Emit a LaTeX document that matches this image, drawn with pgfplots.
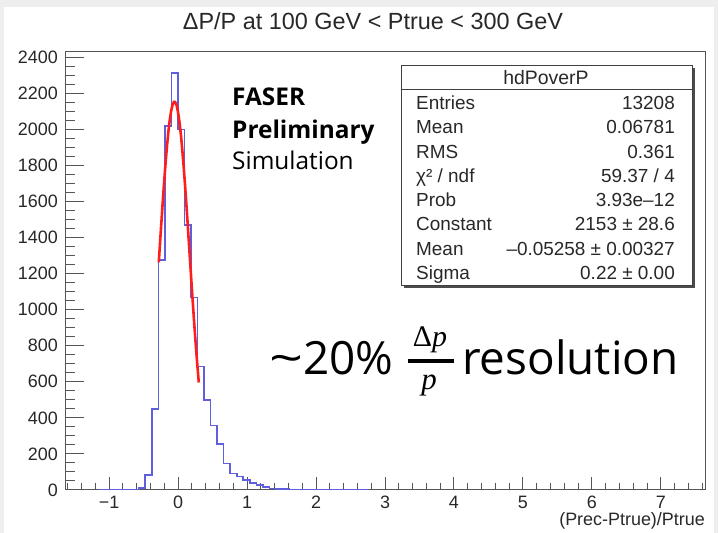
\documentclass[border=0pt]{standalone}
\usepackage[no-math]{fontspec}
\setmainfont{Liberation Sans}
\newfontfamily\osans{Open Sans}
\newfontfamily\mserif{Liberation Serif}
\usepackage{pgfplots}
\pgfplotsset{compat=1.18}
\definecolor{histblue}{RGB}{95,95,222}
\definecolor{fitred}{RGB}{255,30,30}
\definecolor{bggray}{RGB}{238,238,238}
\definecolor{framegray}{RGB}{85,85,85}
\definecolor{txt}{RGB}{40,40,40}
\begin{document}
\begin{tikzpicture}
\fill[bggray] (0bp,0bp) rectangle (718bp,533bp);
\fill[white] (4bp,0bp) rectangle (714bp,526bp);
\begin{axis}[
  at={(65bp,43bp)}, anchor=south west,
  scale only axis, width=640bp, height=438bp,
  xmin=-1.64, xmax=7.64, ymin=0, ymax=2428,
  axis line style={framegray, line width=1bp},
  tick pos=left, tick align=inside,
  xtick={-1,0,1,2,3,4,5,6,7},
  xticklabels={−1,0,1,2,3,4,5,6,7},
  minor xtick={-1.6,-1.4,-1.2,-0.8,-0.6,-0.4,-0.2,0.2,0.4,0.6,0.8,1.2,1.4,1.6,1.8,2.2,2.4,2.6,2.8,3.2,3.4,3.6,3.8,4.2,4.4,4.6,4.8,5.2,5.4,5.6,5.8,6.2,6.4,6.6,6.8,7.2,7.4,7.6},
  ytick={0,200,400,600,800,1000,1200,1400,1600,1800,2000,2200,2400},
  yticklabels={0,200,400,600,800,1000,1200,1400,1600,1800,2000,2200,2400},
  minor ytick={50,100,150,250,300,350,450,500,550,650,700,750,850,900,950,1050,1100,1150,1250,1300,1350,1450,1500,1550,1650,1700,1750,1850,1900,1950,2050,2100,2150,2250,2300,2350},
  major tick length=19bp, minor tick length=9.5bp,
  xtick style={/pgfplots/major tick length=13bp, /pgfplots/minor tick length=6.5bp},
  every tick/.style={framegray, line width=1bp},
  tick label style={font=\fontsize{18}{20}\selectfont, text=txt, inner sep=0pt},
  xticklabel style={anchor=north, yshift=-6bp},
  yticklabel style={anchor=east, xshift=-7bp},
  clip=true,
]
\addplot[const plot, draw=histblue, line width=1.6bp] coordinates {
(-1.140,0) (-1.045,1) (-0.950,1) (-0.855,0) (-0.760,0) (-0.666,2) (-0.571,10)
(-0.476,83) (-0.381,450) (-0.286,1275) (-0.192,2018) (-0.097,2313) (-0.002,1999)
(0.093,1469) (0.187,1066) (0.282,684) (0.377,499) (0.472,358) (0.566,255)
(0.661,147) (0.756,92) (0.851,74) (0.945,55) (1.040,40) (1.135,28) (1.230,17)
(1.324,9) (1.419,5) (1.514,4) (1.609,3) (1.703,3) (1.798,2) (1.893,2) (1.988,2)
(2.082,1) (2.177,1) (2.272,1) (2.367,0) (2.461,1) (2.556,1) (2.651,1) (2.746,0)
};
\addplot[draw=fitred, line width=2.6bp, line join=round] coordinates {
(-0.28,1262) (-0.26,1381) (-0.24,1498) (-0.22,1612) (-0.20,1720) (-0.18,1821)
(-0.16,1911) (-0.14,1990) (-0.12,2054) (-0.10,2103) (-0.08,2136) (-0.06,2152)
(-0.0526,2153) (-0.04,2149) (-0.02,2130) (0.00,2092) (0.02,2039) (0.04,1971)
(0.06,1889) (0.08,1796) (0.10,1693) (0.12,1583) (0.14,1468) (0.16,1350)
(0.18,1231) (0.20,1114) (0.22,999) (0.24,889) (0.26,785) (0.28,687) (0.30,596)
};
\end{axis}
% title and x label
\node[anchor=base, inner sep=0pt, text=txt, font=\fontsize{23.5}{28}\selectfont] at (373bp,503bp) {ΔP/P at 100 GeV < Ptrue < 300 GeV};
\node[anchor=base east, inner sep=0pt, text=txt, font=\fontsize{18}{20}\selectfont] at (705bp,8bp) {(Prec-Ptrue)/Ptrue};
% stats box
\fill[black!70] (404bp,245bp) rectangle (695bp,465bp);
\draw[black!75, fill=white, line width=0.9bp] (401bp,248bp) rectangle (692bp,468bp);
\draw[black!75, line width=0.9bp] (401bp,444bp) -- (692bp,444bp);
\node[inner sep=0pt, text=txt, font=\fontsize{19.5}{22}\selectfont] at (546bp,455bp) {hdPoverP};
\begin{scope}[every node/.style={inner sep=0pt, text=txt, font=\fontsize{19}{22}\selectfont}]
\node[anchor=base west] at (416bp,423.5bp) {Entries};
\node[anchor=base east] at (675bp,423.5bp) {13208};
\node[anchor=base west] at (416bp,399.2bp) {Mean};
\node[anchor=base east] at (675bp,399.2bp) {0.06781};
\node[anchor=base west] at (416bp,374.9bp) {RMS};
\node[anchor=base east] at (675bp,374.9bp) {0.361};
\node[anchor=base west] at (416bp,350.6bp) {χ² / ndf};
\node[anchor=base east] at (675bp,350.6bp) {59.37 / 4};
\node[anchor=base west] at (416bp,326.3bp) {Prob};
\node[anchor=base east] at (675bp,326.3bp) {3.93e–12};
\node[anchor=base west] at (416bp,302.0bp) {Constant};
\node[anchor=base east] at (675bp,302.0bp) {2153 ± 28.6};
\node[anchor=base west] at (416bp,277.7bp) {Mean};
\node[anchor=base east] at (675bp,277.7bp) {–0.05258 ± 0.00327};
\node[anchor=base west] at (416bp,253.4bp) {Sigma};
\node[anchor=base east] at (675bp,253.4bp) {0.22 ± 0.00};
\end{scope}
% annotations
\node[anchor=base west, inner sep=0pt, font=\osans\bfseries\fontsize{24.5}{28}\selectfont] at (232bp,427bp) {FASER};
\node[anchor=base west, inner sep=0pt, font=\osans\bfseries\fontsize{24.5}{28}\selectfont] at (232bp,394.5bp) {Preliminary};
\node[anchor=base west, inner sep=0pt, font=\osans\fontsize{24.5}{28}\selectfont] at (232bp,363bp) {Simulation};
% resolution annotation
\node[anchor=base west, inner sep=0pt, xscale=1.3, transform shape, font=\osans\fontsize{46}{54}\selectfont] at (269bp,158bp) {\textasciitilde};
\node[anchor=base west, inner sep=0pt, font=\osans\fontsize{46}{54}\selectfont] at (303bp,158bp) {20\%};
\draw[black, line width=3.2bp] (407.7bp,172bp) -- (454.3bp,172bp);
\node[anchor=base, inner sep=0pt, font=\mserif\fontsize{30}{36}\selectfont] at (430bp,186.5bp) {Δ\itshape p};
\node[anchor=base, inner sep=0pt, font=\mserif\itshape\fontsize{31}{36}\selectfont] at (429bp,143bp) {p};
\node[anchor=base west, inner sep=0pt, font=\osans\fontsize{46}{54}\selectfont] at (462bp,158bp) {resolution};
\end{tikzpicture}
\end{document}
